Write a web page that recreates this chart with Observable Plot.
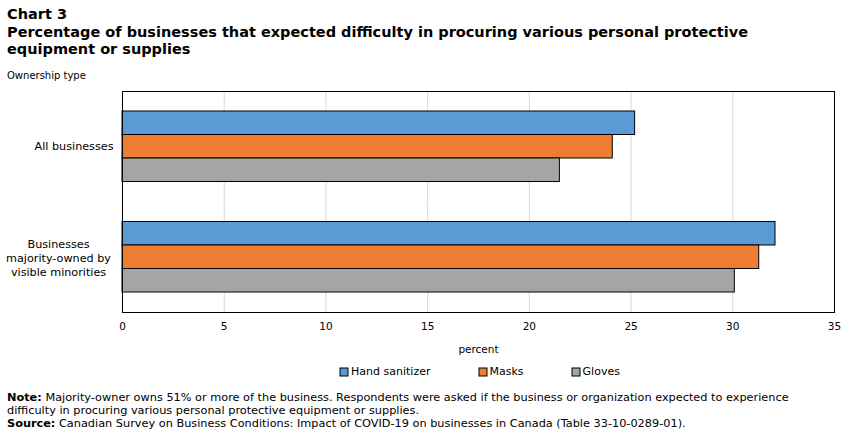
<!DOCTYPE html>
<html>
<head>
<meta charset="utf-8">
<script src="https://cdn.jsdelivr.net/npm/d3@7"></script>
<script src="https://cdn.jsdelivr.net/npm/@observablehq/plot@0.6"></script>
<style>
  body { margin: 0; background: #fff; font-family: "DejaVu Sans", Verdana, sans-serif; color: #000; }
  #page { position: relative; width: 851px; height: 434px; overflow: hidden; }
  #kicker { position: absolute; left: 7px; top: 6px; font-size: 14.5px; font-weight: bold; line-height: 17px; }
  #head { position: absolute; left: 7px; top: 24px; font-size: 14.5px; font-weight: bold; line-height: 16.5px; white-space: nowrap; }
  #ytitle { position: absolute; left: 7px; top: 70px; font-size: 10px; }
  #chart { position: absolute; left: 0; top: 85px; }
  #legend { position: absolute; left: 60px; top: 365px; width: 851px; display: flex; justify-content: center; }
  #legend > div { min-height: 0 !important; margin: 0 !important; }
  #legend svg { margin-right: 3px !important; }
  #legend svg rect { stroke: #000; stroke-width: 1px; }
  #notes { position: absolute; left: 7px; top: 391px; font-size: 11.3px; line-height: 13px; white-space: nowrap; }
  #notes div { height: 13px; }
</style>
</head>
<body>
<div id="page">
  <div id="kicker">Chart 3</div>
  <div id="head">Percentage of businesses that expected difficulty in procuring various personal protective<br>equipment or supplies</div>
  <div id="ytitle">Ownership type</div>
  <div id="chart"></div>
  <div id="legend"></div>
  <div id="notes">
    <div><b>Note:</b> Majority-owner owns 51% or more of the business. Respondents were asked if the business or organization expected to experience</div>
    <div>difficulty in procuring various personal protective equipment or supplies.</div>
    <div><b>Source:</b> Canadian Survey on Business Conditions: Impact of COVID-19 on businesses in Canada (Table 33-10-0289-01).</div>
  </div>
</div>
<script>
// Ownership groups and PPE items
const groups = ["All businesses", "Businesses majority-owned by visible minorities"];
const groupLabels = ["All businesses", "Businesses\nmajority-owned by\nvisible minorities"];
const items = ["Hand sanitizer", "Masks", "Gloves"];
const colors = ["#5b9bd5", "#ed7d31", "#a5a5a5"];

// Percent of businesses, one array per item (same order as groups)
const handSanitizer = [25.2, 32.1];
const masks = [24.1, 31.3];
const gloves = [21.5, 30.1];
const xTicks = [0, 5, 10, 15, 20, 25, 30, 35];

const series = [handSanitizer, masks, gloves];
const data = [];
groups.forEach((g, gi) => items.forEach((it, ii) => data.push({group: g, item: it, value: series[ii][gi]})));

const font = "DejaVu Sans, Verdana, sans-serif";

const chart = Plot.plot({
  width: 851,
  height: 271,
  marginLeft: 122,
  marginRight: 17,
  marginTop: 6,
  marginBottom: 44,
  style: {fontFamily: font, fontSize: "10px", color: "#000"},
  x: {domain: [0, 35]},
  y: {domain: items, paddingInner: 0, paddingOuter: 0.85, round: false, axis: null},
  fy: {domain: groups, padding: 0, round: false, axis: null},
  color: {domain: items, range: colors},
  marks: [
    Plot.ruleX(xTicks.slice(1, -1), {stroke: "#d9d9d9", strokeWidth: 1}),
    Plot.barX(data, {x: "value", y: "item", fy: "group", fill: "item", stroke: "#000", strokeWidth: 1}),
    Plot.frame({facet: "super", stroke: "#000", strokeWidth: 1}),
    Plot.axisX({ticks: xTicks, tickSize: 0, tickPadding: 10, fontSize: 10.5,
      label: "percent", labelAnchor: "center", labelArrow: "none", labelOffset: 40}),
    Plot.axisFy({anchor: "left", ticks: [groups[0]], tickSize: 0, tickPadding: 9, fontSize: 11.2, label: null,
      tickFormat: (d) => groupLabels[groups.indexOf(d)]}),
    Plot.axisFy({anchor: "left", ticks: [groups[1]], tickSize: 0, tickPadding: 9, fontSize: 11.2, label: null,
      textAnchor: "middle", dx: -55, lineHeight: 1.25,
      tickFormat: (d) => groupLabels[groups.indexOf(d)]})
  ]
});
document.getElementById("chart").appendChild(chart);

const legend = Plot.legend({
  legend: "swatches",
  color: {domain: items, range: colors},
  swatchSize: 8,
  style: {fontFamily: font, fontSize: "11px", color: "#000", columnGap: "37px"}
});
document.getElementById("legend").appendChild(legend);
</script>
</body>
</html>
